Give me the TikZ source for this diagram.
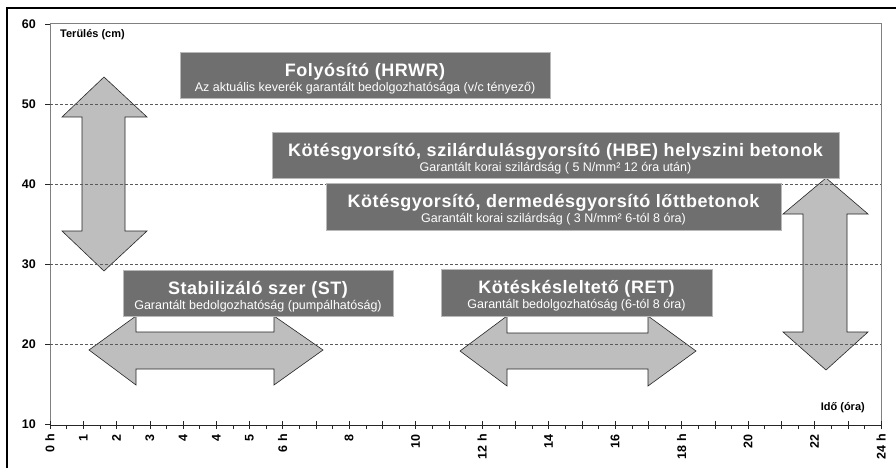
\documentclass[tikz,border=0pt]{standalone}
\usepackage{fontspec}
\setmainfont{Liberation Sans}
\newfontfamily\boxtitlefont[LetterSpace=3]{Liberation Sans}
\usetikzlibrary{positioning,calc}
\definecolor{boxgray}{HTML}{6F6F6F}
\definecolor{arrowgray}{HTML}{BEBEBE}
\definecolor{gridgray}{HTML}{5A5A5A}

\begin{document}
\begin{tikzpicture}[x=1pt, y=-1pt,
    infobox/.style={rectangle, fill=boxgray, draw=gray!55, line width=0.8pt, inner sep=0pt},
    boxtitle/.style={text=white, font=\boxtitlefont\fontsize{18}{20}\selectfont\bfseries, inner sep=0pt, anchor=base},
    boxsub/.style={text=white, font=\fontsize{12.5}{14}\selectfont, inner sep=0pt, anchor=base},
    bigarrow/.style={fill=arrowgray, draw=black!85, line width=0.6pt},
    gridline/.style={gridgray, dash pattern=on 3pt off 2pt, line width=0.6pt},
    axlabel/.style={font=\fontsize{12.5}{14}\selectfont\bfseries, inner sep=0pt}
]
    \useasboundingbox (0,0) rectangle (896,468);

    % Frame and plot area
    \draw[black, line width=1.2pt] (7,468) -- (7,8) -- (896,8);
    \draw[gray, line width=1pt] (50,425) -- (50,24) -- (881,24) -- (881,425);
    \draw[black!85, line width=0.8pt] (50,425) -- (881,425);

    % Y axis
    \foreach \v [count=\k from 0] in {60,50,40,30,20,10} {
        \draw[black!85] (45,{24+\k*80}) -- (50,{24+\k*80});
        \node[axlabel, anchor=east] (yl\v) at (36,{24+\k*80}) {\v};
    }
    \node[font=\fontsize{11}{13}\selectfont\bfseries, anchor=west, inner sep=0pt] (ytitle) at (60,35) {Terülés (cm)};

    % X axis
    \foreach \i in {0,...,25}
        \draw[black!85] ({50+\i*33.24},421) -- ++(0,8);
    \foreach \i in {0,...,24}
        \draw[black!85] ({66.62+\i*33.24},425) -- ++(0,4);
    \foreach \i/\t in {0/0 h,1/1,2/2,3/3,4/4,5/4,6/5,7/6 h,9/8,11/10,13/12 h,15/14,17/16,19/18 h,21/20,23/22,25/24 h}
        \node[axlabel, rotate=90, anchor=east] (xl\i) at ({50+\i*33.24},434) {\t};
    \node[font=\fontsize{11}{13}\selectfont\bfseries, anchor=east, inner sep=0pt] (xtitle) at (865,408) {Idő (óra)};

    % Arrows
    \draw[bigarrow] (104,77) -- (147,117) -- (125,117) -- (125,231) -- (147,231) -- (104,271)
        -- (62,231) -- (82,231) -- (82,117) -- (62,117) -- cycle;
    \draw[bigarrow] (826,178) -- (868,214) -- (847,214) -- (847,332) -- (868,332) -- (826,370)
        -- (783,332) -- (803,332) -- (803,214) -- (783,214) -- cycle;
    \draw[bigarrow] (89,350) -- (136,316) -- (136,332) -- (274,332) -- (274,316) -- (323,350)
        -- (274,385) -- (274,369) -- (136,369) -- (136,385) -- cycle;
    \draw[bigarrow] (460,351) -- (507,316) -- (507,333) -- (648,333) -- (648,316) -- (696,351)
        -- (648,386) -- (648,369) -- (507,369) -- (507,386) -- cycle;

    % Grid
    \foreach \v in {1,...,4}
        \draw[gridline] (50,{24+\v*80}) -- (881,{24+\v*80});

    % Folyosito
    \node[infobox, minimum width=370pt, minimum height=46pt] (hrwr) at (365,75) {};
    \node[boxtitle] (hrwrT) at ([yshift=-25pt]hrwr.north) {Folyósító (HRWR)};
    \node[boxsub] (hrwrS) at ([yshift=-40pt]hrwr.north) {Az aktuális keverék garantált bedolgozhatósága (v/c tényező)};

    % HBE
    \node[infobox, minimum width=567pt, minimum height=46pt] (hbe) at (555.5,155) {};
    \node[boxtitle] (hbeT) at ([yshift=-25pt]hbe.north) {Kötésgyorsító, szilárdulásgyorsító (HBE) helyszini betonok};
    \node[boxsub] (hbeS) at ([yshift=-40pt]hbe.north) {Garantált korai szilárdság ( 5 N/mm² 12 óra után)};

    % Lottbeton
    \node[infobox, minimum width=455pt, minimum height=47pt] (lott) at (553.5,206.5) {};
    \node[boxtitle] (lottT) at ([yshift=-25pt]lott.north) {Kötésgyorsító, dermedésgyorsító lőttbetonok};
    \node[boxsub] (lottS) at ([yshift=-40pt]lott.north) {Garantált korai szilárdság ( 3 N/mm² 6-tól 8 óra)};

    % ST
    \node[infobox, minimum width=270pt, minimum height=46pt] (st) at (258,293) {};
    \node[boxtitle] (stT) at ([yshift=-25pt]st.north) {Stabilizáló szer (ST)};
    \node[boxsub] (stS) at ([yshift=-40pt]st.north) {Garantált bedolgozhatóság (pumpálhatóság)};

    % RET
    \node[infobox, minimum width=271pt, minimum height=47pt] (ret) at (576.5,292.5) {};
    \node[boxtitle] (retT) at ([yshift=-25pt]ret.north) {Kötéskésleltető (RET)};
    \node[boxsub] (retS) at ([yshift=-40pt]ret.north) {Garantált bedolgozhatóság (6-tól 8 óra)};
\end{tikzpicture}
\end{document}
